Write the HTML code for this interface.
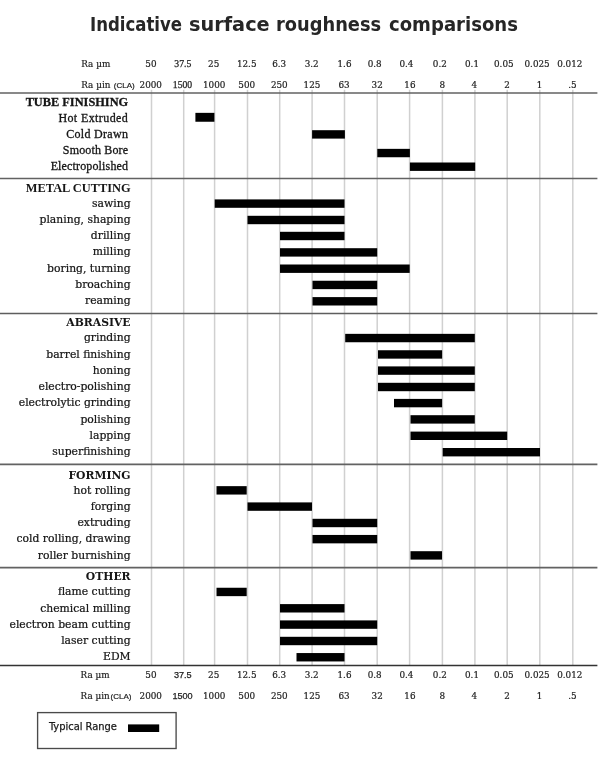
<!DOCTYPE html>
<html lang="en"><head><meta charset="utf-8"><title>Indicative surface roughness comparisons</title>
<style>
html,body{margin:0;padding:0;background:#fff;}
body{width:600px;height:763px;position:relative;overflow:hidden;}
svg{position:absolute;left:0;top:0;display:block;}
.title{position:absolute;white-space:nowrap;line-height:1;left:0;top:13.6px;width:600px;height:24px;font-family:"DejaVu Sans Condensed","DejaVu Sans","Liberation Sans",sans-serif;font-weight:bold;font-size:20px;color:#262626;margin:0;}
.title span{position:absolute;top:0;display:inline-block;transform-origin:0 50%;}
text{fill:#161616;}
.d{font-family:"DejaVu Serif","Liberation Serif",serif;font-size:10.8px;text-anchor:end;stroke:#161616;stroke-width:0.22px;}
.hd{font-family:"DejaVu Serif","Liberation Serif",serif;font-size:10.8px;font-weight:bold;text-anchor:end;}
.g{font-family:"Liberation Serif",serif;font-size:12px;letter-spacing:0.15px;stroke:#161616;stroke-width:0.3px;text-anchor:end;}
.hg{font-family:"Liberation Serif",serif;font-size:12.35px;font-weight:bold;text-anchor:end;stroke:#161616;stroke-width:0.3px;}
.hm{font-family:"Liberation Serif",serif;font-size:12.4px;font-weight:bold;text-anchor:end;}
.ax{font-family:"DejaVu Serif","Liberation Serif",serif;font-size:8.8px;text-anchor:middle;fill:#222;stroke:#222;stroke-width:0.2px;}
.axl{font-family:"DejaVu Serif","Liberation Serif",serif;font-size:8.8px;fill:#222;stroke:#222;stroke-width:0.2px;}
.ts{font-family:"Liberation Serif",serif;font-size:9.7px;text-anchor:middle;fill:#222;stroke:#222;stroke-width:0.25px;}
.bs{font-family:"Liberation Sans",sans-serif;font-size:9.1px;text-anchor:middle;fill:#222;stroke:#222;stroke-width:0.25px;}
.cla{font-family:"Liberation Sans",sans-serif;font-size:8px;fill:#222;stroke:#222;stroke-width:0.2px;}
.leg{font-family:"DejaVu Sans Condensed","DejaVu Sans","Liberation Sans",sans-serif;font-size:11px;fill:#1a1a1a;stroke:#1a1a1a;stroke-width:0.25px;}
</style></head><body>
<h1 class="title"><span style="left:90.16px;transform:scaleX(0.92)">Indicative</span> <span style="left:188.93px;transform:scaleX(1.072)">surface</span> <span style="left:276px;transform:scaleX(0.99)">roughness</span> <span style="left:389px;transform:scaleX(1.004)">comparisons</span></h1>
<svg width="600" height="763" viewBox="0 0 600 763">

<g stroke="#d0d0d0" stroke-width="1.5">
<line x1="151.5" y1="89.8" x2="151.5" y2="665"/>
<line x1="183.7" y1="89.8" x2="183.7" y2="665"/>
<line x1="214.6" y1="89.8" x2="214.6" y2="665"/>
<line x1="247.5" y1="89.8" x2="247.5" y2="665"/>
<line x1="279.7" y1="89.8" x2="279.7" y2="665"/>
<line x1="312.1" y1="89.8" x2="312.1" y2="665"/>
<line x1="344.5" y1="89.8" x2="344.5" y2="665"/>
<line x1="377.2" y1="89.8" x2="377.2" y2="665"/>
<line x1="409.6" y1="89.8" x2="409.6" y2="665"/>
<line x1="442.4" y1="89.8" x2="442.4" y2="665"/>
<line x1="474.9" y1="89.8" x2="474.9" y2="665"/>
<line x1="507.2" y1="89.8" x2="507.2" y2="665"/>
<line x1="539.8" y1="89.8" x2="539.8" y2="665"/>
<line x1="572.8" y1="89.8" x2="572.8" y2="665"/>
</g>
<g fill="#000">
<rect x="195.4" y="112.85" width="19.0" height="8.9"/>
<rect x="312.1" y="130.20" width="32.8" height="8.4"/>
<rect x="377.3" y="148.85" width="32.6" height="8.4"/>
<rect x="409.9" y="162.50" width="65.3" height="8.4"/>
<rect x="214.7" y="199.40" width="129.8" height="8.4"/>
<rect x="247.5" y="215.80" width="97.0" height="8.4"/>
<rect x="280.0" y="231.80" width="64.5" height="8.4"/>
<rect x="280.0" y="248.20" width="97.2" height="8.4"/>
<rect x="280.0" y="264.50" width="129.7" height="8.4"/>
<rect x="312.5" y="280.75" width="64.7" height="8.4"/>
<rect x="312.5" y="297.10" width="64.7" height="8.4"/>
<rect x="345.2" y="333.85" width="129.6" height="8.4"/>
<rect x="378.0" y="350.25" width="64.1" height="8.4"/>
<rect x="378.0" y="366.40" width="96.8" height="8.4"/>
<rect x="378.0" y="382.80" width="96.8" height="8.4"/>
<rect x="394.0" y="398.90" width="48.1" height="8.4"/>
<rect x="410.5" y="415.20" width="64.3" height="8.4"/>
<rect x="410.5" y="431.60" width="96.7" height="8.4"/>
<rect x="442.7" y="448.00" width="97.3" height="8.4"/>
<rect x="216.5" y="486.15" width="30.2" height="8.4"/>
<rect x="247.5" y="502.40" width="64.5" height="8.4"/>
<rect x="312.5" y="518.80" width="64.7" height="8.4"/>
<rect x="312.5" y="534.95" width="64.7" height="8.4"/>
<rect x="410.5" y="551.20" width="31.5" height="8.4"/>
<rect x="216.5" y="587.75" width="30.2" height="8.4"/>
<rect x="280.0" y="604.10" width="64.5" height="8.4"/>
<rect x="280.0" y="620.40" width="97.2" height="8.4"/>
<rect x="280.0" y="636.80" width="97.2" height="8.4"/>
<rect x="296.5" y="653.05" width="48.0" height="8.4"/>
</g>
<line x1="0" y1="93.0" x2="597.4" y2="93.0" stroke="#626262" stroke-width="1.6"/>
<line x1="0" y1="178.5" x2="597.4" y2="178.5" stroke="#626262" stroke-width="1.6"/>
<line x1="0" y1="313.5" x2="597.4" y2="313.5" stroke="#5e5e5e" stroke-width="1.5"/>
<line x1="0" y1="464.3" x2="597.4" y2="464.3" stroke="#626262" stroke-width="1.7"/>
<line x1="0" y1="567.6" x2="597.4" y2="567.6" stroke="#626262" stroke-width="1.6"/>
<line x1="0" y1="665.45" x2="597.4" y2="665.45" stroke="#333" stroke-width="1.6"/>
<text class="hg" x="128.2" y="105.9">TUBE FINISHING</text>
<text class="g" x="128.2" y="121.9" style="letter-spacing:0.4px">Hot Extruded</text>
<text class="g" x="128.2" y="138.0" style="letter-spacing:0.3px">Cold Drawn</text>
<text class="g" x="128.2" y="154.0">Smooth Bore</text>
<text class="g" x="128.2" y="169.9">Electropolished</text>
<text class="hm" x="130.6" y="192.1">METAL CUTTING</text>
<text class="d" x="130.6" y="207.0">sawing</text>
<text class="d" x="130.6" y="223.2">planing, shaping</text>
<text class="d" x="130.6" y="239.2">drilling</text>
<text class="d" x="130.6" y="255.4">milling</text>
<text class="d" x="130.6" y="271.7">boring, turning</text>
<text class="d" x="130.6" y="288.1">broaching</text>
<text class="d" x="130.6" y="304.3">reaming</text>
<text class="hd" x="130.6" y="326.3">ABRASIVE</text>
<text class="d" x="130.6" y="341.1">grinding</text>
<text class="d" x="130.6" y="357.6">barrel finishing</text>
<text class="d" x="130.6" y="373.6">honing</text>
<text class="d" x="130.6" y="390.0">electro-polishing</text>
<text class="d" x="130.6" y="406.0">electrolytic grinding</text>
<text class="d" x="130.6" y="422.8">polishing</text>
<text class="d" x="130.6" y="438.9">lapping</text>
<text class="d" x="130.6" y="455.0">superfinishing</text>
<text class="hd" x="130.6" y="479.3">FORMING</text>
<text class="d" x="130.6" y="494.0">hot rolling</text>
<text class="d" x="130.6" y="510.0">forging</text>
<text class="d" x="130.6" y="525.9">extruding</text>
<text class="d" x="130.6" y="542.4">cold rolling, drawing</text>
<text class="d" x="130.6" y="558.7">roller burnishing</text>
<text class="hd" x="130.6" y="580.4">OTHER</text>
<text class="d" x="130.6" y="595.4">flame cutting</text>
<text class="d" x="130.6" y="612.1">chemical milling</text>
<text class="d" x="130.6" y="628.0">electron beam cutting</text>
<text class="d" x="130.6" y="643.8">laser cutting</text>
<text class="d" x="130.6" y="660.1">EDM</text>
<text class="axl" x="81.3" y="67.0">Ra &#181;m</text>
<text class="axl" x="81.3" y="88.4">Ra &#181;in</text><text class="cla" x="113.8" y="88.10000000000001">(CLA)</text>
<text class="ax" x="150.9" y="67.0">50</text>
<text class="ts" x="182.8" y="67.0">37.5</text>
<text class="ax" x="213.7" y="67.0">25</text>
<text class="ax" x="246.7" y="67.0">12.5</text>
<text class="ax" x="279.2" y="67.0">6.3</text>
<text class="ax" x="311.7" y="67.0">3.2</text>
<text class="ax" x="344.5" y="67.0">1.6</text>
<text class="ax" x="374.7" y="67.0">0.8</text>
<text class="ax" x="406.4" y="67.0">0.4</text>
<text class="ax" x="439.8" y="67.0">0.2</text>
<text class="ax" x="472" y="67.0">0.1</text>
<text class="ax" x="503.8" y="67.0">0.05</text>
<text class="ax" x="537.1" y="67.0">0.025</text>
<text class="ax" x="569.8" y="67.0">0.012</text>
<text class="ax" x="150.75" y="88.4">2000</text>
<text class="ts" x="182.5" y="88.4">1500</text>
<text class="ax" x="214.2" y="88.4">1000</text>
<text class="ax" x="246.7" y="88.4">500</text>
<text class="ax" x="279.3" y="88.4">250</text>
<text class="ax" x="312" y="88.4">125</text>
<text class="ax" x="344" y="88.4">63</text>
<text class="ax" x="377.2" y="88.4">32</text>
<text class="ax" x="409.9" y="88.4">16</text>
<text class="ax" x="442.3" y="88.4">8</text>
<text class="ax" x="474.4" y="88.4">4</text>
<text class="ax" x="507" y="88.4">2</text>
<text class="ax" x="539.5" y="88.4">1</text>
<text class="ax" x="572.5" y="88.4">.5</text>
<text class="axl" x="80.6" y="678.1">Ra &#181;m</text>
<text class="axl" x="80.6" y="699.3">Ra &#181;in</text><text class="cla" x="110.5" y="699.0">(CLA)</text>
<text class="ax" x="150.9" y="678.1">50</text>
<text class="bs" x="182.8" y="678.1">37.5</text>
<text class="ax" x="213.7" y="678.1">25</text>
<text class="ax" x="246.7" y="678.1">12.5</text>
<text class="ax" x="279.2" y="678.1">6.3</text>
<text class="ax" x="311.7" y="678.1">3.2</text>
<text class="ax" x="344.5" y="678.1">1.6</text>
<text class="ax" x="374.7" y="678.1">0.8</text>
<text class="ax" x="406.4" y="678.1">0.4</text>
<text class="ax" x="439.8" y="678.1">0.2</text>
<text class="ax" x="472" y="678.1">0.1</text>
<text class="ax" x="503.8" y="678.1">0.05</text>
<text class="ax" x="537.1" y="678.1">0.025</text>
<text class="ax" x="569.8" y="678.1">0.012</text>
<text class="ax" x="150.75" y="699.3">2000</text>
<text class="bs" x="182.5" y="699.3">1500</text>
<text class="ax" x="214.2" y="699.3">1000</text>
<text class="ax" x="246.7" y="699.3">500</text>
<text class="ax" x="279.3" y="699.3">250</text>
<text class="ax" x="312" y="699.3">125</text>
<text class="ax" x="344" y="699.3">63</text>
<text class="ax" x="377.2" y="699.3">32</text>
<text class="ax" x="409.9" y="699.3">16</text>
<text class="ax" x="442.3" y="699.3">8</text>
<text class="ax" x="474.4" y="699.3">4</text>
<text class="ax" x="507" y="699.3">2</text>
<text class="ax" x="539.5" y="699.3">1</text>
<text class="ax" x="572.5" y="699.3">.5</text>
<rect x="37.6" y="712.6" width="138.5" height="35.9" fill="none" stroke="#4a4a4a" stroke-width="1.35"/>
<text class="leg" x="49.0" y="730.15">Typical Range</text>
<rect x="128.0" y="724.4" width="31.2" height="7.6" fill="#000"/>
</svg>
</body></html>
